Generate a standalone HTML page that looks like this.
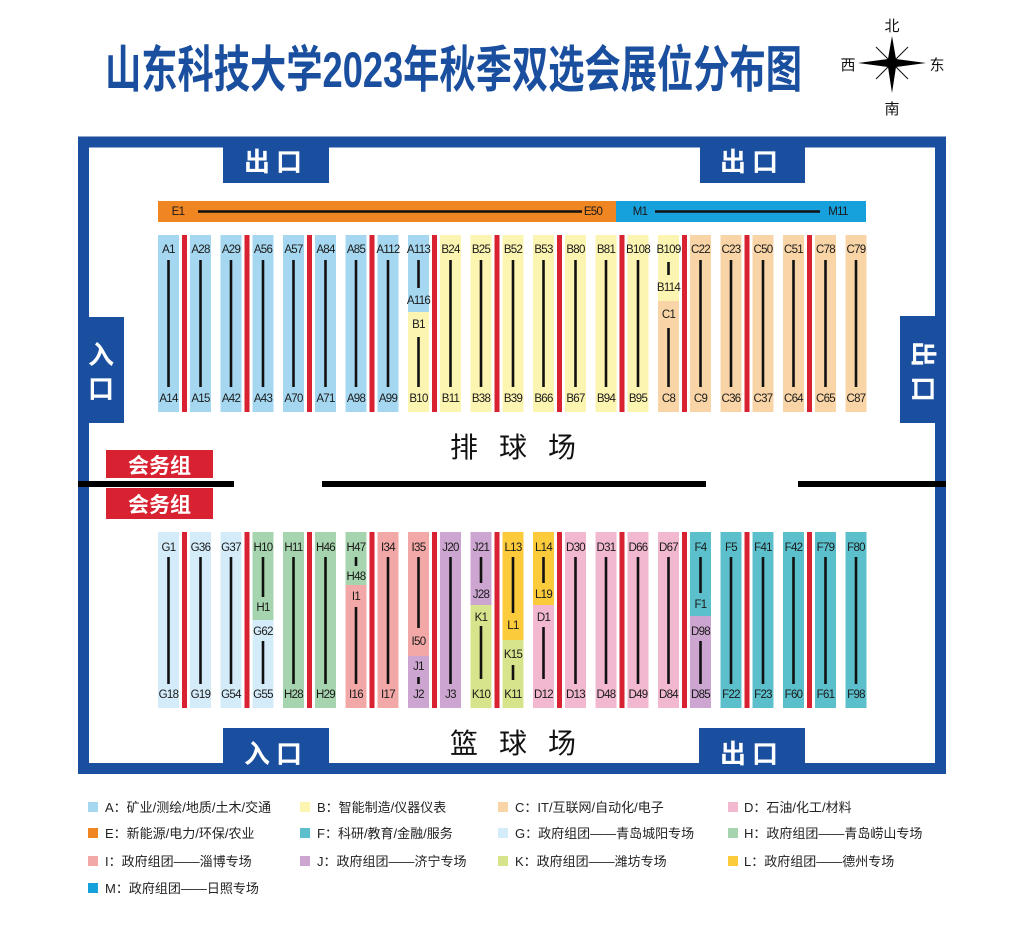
<!DOCTYPE html>
<html><head><meta charset="utf-8"><style>
html,body{margin:0;padding:0;background:#fff;width:1024px;height:927px;overflow:hidden}
svg{display:block}
.l{font-family:"Liberation Sans",sans-serif;font-size:11.5px;text-anchor:middle;fill:#1a1a1a;letter-spacing:-0.7px}
.k{stroke:#111;stroke-width:2.6}
.w{font-family:"Liberation Sans","Noto Sans CJK SC",sans-serif;font-weight:bold;fill:#fff;text-anchor:middle}
.lg{font-family:"Liberation Sans","Noto Sans CJK SC",sans-serif;font-size:13px;fill:#222}
.c{font-family:"Liberation Sans","Noto Sans CJK SC",sans-serif;font-size:15px;fill:#111;text-anchor:middle}
</style></head><body>
<svg width="1024" height="927" viewBox="0 0 1024 927" xmlns="http://www.w3.org/2000/svg">
<rect width="1024" height="927" fill="#fff"/>
<text x="105" y="87" textLength="697" lengthAdjust="spacingAndGlyphs" style="font-family:'Liberation Sans','Noto Sans CJK SC',sans-serif;font-weight:bold;font-size:50px;fill:#1a4e9e">山东科技大学2023年秋季双选会展位分布图</text>
<g transform="translate(892,63)">
<line x1="-16" y1="-16" x2="16" y2="16" stroke="#111" stroke-width="1"/>
<line x1="-16" y1="16" x2="16" y2="-16" stroke="#111" stroke-width="1"/>
<polygon points="0,-27 4,-4 34,0 4,4 0,30 -4,4 -34,0 -4,-4" fill="#000"/>
</g>
<text class="c" x="892" y="31">北</text>
<text class="c" x="892" y="114">南</text>
<text class="c" x="848" y="70">西</text>
<text class="c" x="937" y="70">东</text>
<rect x="83.5" y="142" width="857" height="626.5" fill="none" stroke="#1a4e9e" stroke-width="11"/>
<rect x="223" y="137" width="106" height="46" fill="#1a4e9e"/>
<text class="w" x="276" y="171" font-size="26" letter-spacing="6">出口</text>
<rect x="700" y="137" width="105" height="46" fill="#1a4e9e"/>
<text class="w" x="752" y="171" font-size="26" letter-spacing="6">出口</text>
<rect x="223" y="728" width="106" height="46" fill="#1a4e9e"/>
<text class="w" x="276" y="763" font-size="26" letter-spacing="6">入口</text>
<rect x="699" y="728" width="106" height="46" fill="#1a4e9e"/>
<text class="w" x="752" y="763" font-size="26" letter-spacing="6">出口</text>
<rect x="78" y="317" width="46" height="106" fill="#1a4e9e"/>
<text class="w" x="101" y="364" font-size="26">入</text>
<text class="w" x="101" y="398" font-size="26">口</text>
<rect x="900" y="316" width="46" height="107" fill="#1a4e9e"/>
<text class="w" font-size="26" transform="translate(923,354) rotate(90)" y="9">出</text>
<text class="w" font-size="26" transform="translate(923,389) rotate(90)" y="9">口</text>
<rect x="78" y="481" width="156" height="6" fill="#000"/>
<rect x="322" y="481" width="384" height="6" fill="#000"/>
<rect x="798" y="481" width="148" height="6" fill="#000"/>
<rect x="106" y="450" width="107" height="28" fill="#d92231"/>
<rect x="106" y="488" width="107" height="31" fill="#d92231"/>
<text class="w" x="159.5" y="473" font-size="21">会务组</text>
<text class="w" x="159.5" y="512" font-size="21">会务组</text>
<text x="450" y="457" letter-spacing="21" style="font-family:'Noto Sans CJK SC',sans-serif;font-size:28px;fill:#111">排球场</text>
<text x="450" y="753" letter-spacing="21" style="font-family:'Noto Sans CJK SC',sans-serif;font-size:28px;fill:#111">篮球场</text>
<rect x="158" y="201" width="458" height="21" fill="#ef8622"/>
<rect x="616" y="201" width="250" height="21" fill="#17a1dc"/>
<text class="l" x="178" y="215">E1</text>
<line class="k" x1="198" y1="211.5" x2="582" y2="211.5"/>
<text class="l" x="593" y="215">E50</text>
<text class="l" x="640" y="215">M1</text>
<line class="k" x1="655" y1="211.5" x2="820" y2="211.5"/>
<text class="l" x="838" y="215">M11</text>

<g fill="#d92231">
<rect x="182" y="235" width="5" height="177"/><rect x="244.5" y="235" width="5" height="177"/><rect x="307" y="235" width="5" height="177"/><rect x="369.5" y="235" width="5" height="177"/><rect x="432" y="235" width="5" height="177"/><rect x="494.5" y="235" width="5" height="177"/><rect x="557" y="235" width="5" height="177"/><rect x="619.5" y="235" width="5" height="177"/><rect x="682" y="235" width="5" height="177"/><rect x="744.5" y="235" width="5" height="177"/><rect x="807" y="235" width="5" height="177"/>
</g>
<g transform="translate(158,235)"><rect width="21" height="177" fill="#a5d7f0"/><text class="l" x="10.5" y="18">A1</text><line class="k" x1="10.5" y1="25" x2="10.5" y2="152"/><text class="l" x="10.5" y="167">A14</text></g>
<g transform="translate(190,235)"><rect width="21" height="177" fill="#a5d7f0"/><text class="l" x="10.5" y="18">A28</text><line class="k" x1="10.5" y1="25" x2="10.5" y2="152"/><text class="l" x="10.5" y="167">A15</text></g>
<g transform="translate(220.5,235)"><rect width="21" height="177" fill="#a5d7f0"/><text class="l" x="10.5" y="18">A29</text><line class="k" x1="10.5" y1="25" x2="10.5" y2="152"/><text class="l" x="10.5" y="167">A42</text></g>
<g transform="translate(252.5,235)"><rect width="21" height="177" fill="#a5d7f0"/><text class="l" x="10.5" y="18">A56</text><line class="k" x1="10.5" y1="25" x2="10.5" y2="152"/><text class="l" x="10.5" y="167">A43</text></g>
<g transform="translate(283,235)"><rect width="21" height="177" fill="#a5d7f0"/><text class="l" x="10.5" y="18">A57</text><line class="k" x1="10.5" y1="25" x2="10.5" y2="152"/><text class="l" x="10.5" y="167">A70</text></g>
<g transform="translate(315,235)"><rect width="21" height="177" fill="#a5d7f0"/><text class="l" x="10.5" y="18">A84</text><line class="k" x1="10.5" y1="25" x2="10.5" y2="152"/><text class="l" x="10.5" y="167">A71</text></g>
<g transform="translate(345.5,235)"><rect width="21" height="177" fill="#a5d7f0"/><text class="l" x="10.5" y="18">A85</text><line class="k" x1="10.5" y1="25" x2="10.5" y2="152"/><text class="l" x="10.5" y="167">A98</text></g>
<g transform="translate(377.5,235)"><rect width="21" height="177" fill="#a5d7f0"/><text class="l" x="10.5" y="18">A112</text><line class="k" x1="10.5" y1="25" x2="10.5" y2="152"/><text class="l" x="10.5" y="167">A99</text></g>
<g transform="translate(408,235)"><rect width="21" height="77" fill="#a5d7f0"/><rect y="77" width="21" height="100" fill="#fcf4b1"/><text class="l" x="10.5" y="18">A113</text><line class="k" x1="10.5" y1="25" x2="10.5" y2="53"/><text class="l" x="10.5" y="69">A116</text><text class="l" x="10.5" y="93">B1</text><line class="k" x1="10.5" y1="102" x2="10.5" y2="152"/><text class="l" x="10.5" y="167">B10</text></g>
<g transform="translate(440,235)"><rect width="21" height="177" fill="#fcf4b1"/><text class="l" x="10.5" y="18">B24</text><line class="k" x1="10.5" y1="25" x2="10.5" y2="152"/><text class="l" x="10.5" y="167">B11</text></g>
<g transform="translate(470.5,235)"><rect width="21" height="177" fill="#fcf4b1"/><text class="l" x="10.5" y="18">B25</text><line class="k" x1="10.5" y1="25" x2="10.5" y2="152"/><text class="l" x="10.5" y="167">B38</text></g>
<g transform="translate(502.5,235)"><rect width="21" height="177" fill="#fcf4b1"/><text class="l" x="10.5" y="18">B52</text><line class="k" x1="10.5" y1="25" x2="10.5" y2="152"/><text class="l" x="10.5" y="167">B39</text></g>
<g transform="translate(533,235)"><rect width="21" height="177" fill="#fcf4b1"/><text class="l" x="10.5" y="18">B53</text><line class="k" x1="10.5" y1="25" x2="10.5" y2="152"/><text class="l" x="10.5" y="167">B66</text></g>
<g transform="translate(565,235)"><rect width="21" height="177" fill="#fcf4b1"/><text class="l" x="10.5" y="18">B80</text><line class="k" x1="10.5" y1="25" x2="10.5" y2="152"/><text class="l" x="10.5" y="167">B67</text></g>
<g transform="translate(595.5,235)"><rect width="21" height="177" fill="#fcf4b1"/><text class="l" x="10.5" y="18">B81</text><line class="k" x1="10.5" y1="25" x2="10.5" y2="152"/><text class="l" x="10.5" y="167">B94</text></g>
<g transform="translate(627.5,235)"><rect width="21" height="177" fill="#fcf4b1"/><text class="l" x="10.5" y="18">B108</text><line class="k" x1="10.5" y1="25" x2="10.5" y2="152"/><text class="l" x="10.5" y="167">B95</text></g>
<g transform="translate(658,235)"><rect width="21" height="66" fill="#fcf4b1"/><rect y="66" width="21" height="111" fill="#f8d4a6"/><text class="l" x="10.5" y="18">B109</text><line class="k" x1="10.5" y1="27" x2="10.5" y2="40"/><text class="l" x="10.5" y="56">B114</text><text class="l" x="10.5" y="83">C1</text><line class="k" x1="10.5" y1="93" x2="10.5" y2="152"/><text class="l" x="10.5" y="167">C8</text></g>
<g transform="translate(690,235)"><rect width="21" height="177" fill="#f8d4a6"/><text class="l" x="10.5" y="18">C22</text><line class="k" x1="10.5" y1="25" x2="10.5" y2="152"/><text class="l" x="10.5" y="167">C9</text></g>
<g transform="translate(720.5,235)"><rect width="21" height="177" fill="#f8d4a6"/><text class="l" x="10.5" y="18">C23</text><line class="k" x1="10.5" y1="25" x2="10.5" y2="152"/><text class="l" x="10.5" y="167">C36</text></g>
<g transform="translate(752.5,235)"><rect width="21" height="177" fill="#f8d4a6"/><text class="l" x="10.5" y="18">C50</text><line class="k" x1="10.5" y1="25" x2="10.5" y2="152"/><text class="l" x="10.5" y="167">C37</text></g>
<g transform="translate(783,235)"><rect width="21" height="177" fill="#f8d4a6"/><text class="l" x="10.5" y="18">C51</text><line class="k" x1="10.5" y1="25" x2="10.5" y2="152"/><text class="l" x="10.5" y="167">C64</text></g>
<g transform="translate(815,235)"><rect width="21" height="177" fill="#f8d4a6"/><text class="l" x="10.5" y="18">C78</text><line class="k" x1="10.5" y1="25" x2="10.5" y2="152"/><text class="l" x="10.5" y="167">C65</text></g>
<g transform="translate(845.5,235)"><rect width="21" height="177" fill="#f8d4a6"/><text class="l" x="10.5" y="18">C79</text><line class="k" x1="10.5" y1="25" x2="10.5" y2="152"/><text class="l" x="10.5" y="167">C87</text></g>

<g fill="#d92231">
<rect x="182" y="532" width="5" height="176"/><rect x="244.5" y="532" width="5" height="176"/><rect x="307" y="532" width="5" height="176"/><rect x="369.5" y="532" width="5" height="176"/><rect x="432" y="532" width="5" height="176"/><rect x="494.5" y="532" width="5" height="176"/><rect x="557" y="532" width="5" height="176"/><rect x="619.5" y="532" width="5" height="176"/><rect x="682" y="532" width="5" height="176"/><rect x="744.5" y="532" width="5" height="176"/><rect x="807" y="532" width="5" height="176"/>
</g>
<g transform="translate(158,532)"><rect width="21" height="176" fill="#d4ecf9"/><text class="l" x="10.5" y="19">G1</text><line class="k" x1="10.5" y1="25" x2="10.5" y2="152"/><text class="l" x="10.5" y="166">G18</text></g>
<g transform="translate(190,532)"><rect width="21" height="176" fill="#d4ecf9"/><text class="l" x="10.5" y="19">G36</text><line class="k" x1="10.5" y1="25" x2="10.5" y2="152"/><text class="l" x="10.5" y="166">G19</text></g>
<g transform="translate(220.5,532)"><rect width="21" height="176" fill="#d4ecf9"/><text class="l" x="10.5" y="19">G37</text><line class="k" x1="10.5" y1="25" x2="10.5" y2="152"/><text class="l" x="10.5" y="166">G54</text></g>
<g transform="translate(252.5,532)"><rect width="21" height="88" fill="#a6d4ae"/><rect y="88" width="21" height="88" fill="#d4ecf9"/><text class="l" x="10.5" y="19">H10</text><line class="k" x1="10.5" y1="25" x2="10.5" y2="65"/><text class="l" x="10.5" y="79">H1</text><text class="l" x="10.5" y="103">G62</text><line class="k" x1="10.5" y1="109" x2="10.5" y2="152"/><text class="l" x="10.5" y="166">G55</text></g>
<g transform="translate(283,532)"><rect width="21" height="176" fill="#a6d4ae"/><text class="l" x="10.5" y="19">H11</text><line class="k" x1="10.5" y1="25" x2="10.5" y2="152"/><text class="l" x="10.5" y="166">H28</text></g>
<g transform="translate(315,532)"><rect width="21" height="176" fill="#a6d4ae"/><text class="l" x="10.5" y="19">H46</text><line class="k" x1="10.5" y1="25" x2="10.5" y2="152"/><text class="l" x="10.5" y="166">H29</text></g>
<g transform="translate(345.5,532)"><rect width="21" height="53" fill="#a6d4ae"/><rect y="53" width="21" height="123" fill="#f2a8a6"/><text class="l" x="10.5" y="19">H47</text><line class="k" x1="10.5" y1="25" x2="10.5" y2="34"/><text class="l" x="10.5" y="48">H48</text><text class="l" x="10.5" y="68">I1</text><line class="k" x1="10.5" y1="75" x2="10.5" y2="152"/><text class="l" x="10.5" y="166">I16</text></g>
<g transform="translate(377.5,532)"><rect width="21" height="176" fill="#f2a8a6"/><text class="l" x="10.5" y="19">I34</text><line class="k" x1="10.5" y1="25" x2="10.5" y2="152"/><text class="l" x="10.5" y="166">I17</text></g>
<g transform="translate(408,532)"><rect width="21" height="124" fill="#f2a8a6"/><rect y="124" width="21" height="52" fill="#cca6d0"/><text class="l" x="10.5" y="19">I35</text><line class="k" x1="10.5" y1="25" x2="10.5" y2="96"/><text class="l" x="10.5" y="113">I50</text><text class="l" x="10.5" y="138">J1</text><line class="k" x1="10.5" y1="145" x2="10.5" y2="152"/><text class="l" x="10.5" y="166">J2</text></g>
<g transform="translate(440,532)"><rect width="21" height="176" fill="#cca6d0"/><text class="l" x="10.5" y="19">J20</text><line class="k" x1="10.5" y1="25" x2="10.5" y2="152"/><text class="l" x="10.5" y="166">J3</text></g>
<g transform="translate(470.5,532)"><rect width="21" height="73" fill="#cca6d0"/><rect y="73" width="21" height="103" fill="#d8e48c"/><text class="l" x="10.5" y="19">J21</text><line class="k" x1="10.5" y1="25" x2="10.5" y2="51"/><text class="l" x="10.5" y="66">J28</text><text class="l" x="10.5" y="89">K1</text><line class="k" x1="10.5" y1="94" x2="10.5" y2="147"/><text class="l" x="10.5" y="166">K10</text></g>
<g transform="translate(502.5,532)"><rect width="21" height="108" fill="#fbcb3c"/><rect y="108" width="21" height="68" fill="#d8e48c"/><text class="l" x="10.5" y="19">L13</text><line class="k" x1="10.5" y1="25" x2="10.5" y2="81"/><text class="l" x="10.5" y="97">L1</text><text class="l" x="10.5" y="126">K15</text><line class="k" x1="10.5" y1="133" x2="10.5" y2="148"/><text class="l" x="10.5" y="166">K11</text></g>
<g transform="translate(533,532)"><rect width="21" height="73" fill="#fbcb3c"/><rect y="73" width="21" height="103" fill="#f2b8d0"/><text class="l" x="10.5" y="19">L14</text><line class="k" x1="10.5" y1="25" x2="10.5" y2="51"/><text class="l" x="10.5" y="66">L19</text><text class="l" x="10.5" y="89">D1</text><line class="k" x1="10.5" y1="95" x2="10.5" y2="147"/><text class="l" x="10.5" y="166">D12</text></g>
<g transform="translate(565,532)"><rect width="21" height="176" fill="#f2b8d0"/><text class="l" x="10.5" y="19">D30</text><line class="k" x1="10.5" y1="25" x2="10.5" y2="152"/><text class="l" x="10.5" y="166">D13</text></g>
<g transform="translate(595.5,532)"><rect width="21" height="176" fill="#f2b8d0"/><text class="l" x="10.5" y="19">D31</text><line class="k" x1="10.5" y1="25" x2="10.5" y2="152"/><text class="l" x="10.5" y="166">D48</text></g>
<g transform="translate(627.5,532)"><rect width="21" height="176" fill="#f2b8d0"/><text class="l" x="10.5" y="19">D66</text><line class="k" x1="10.5" y1="25" x2="10.5" y2="152"/><text class="l" x="10.5" y="166">D49</text></g>
<g transform="translate(658,532)"><rect width="21" height="176" fill="#f2b8d0"/><text class="l" x="10.5" y="19">D67</text><line class="k" x1="10.5" y1="25" x2="10.5" y2="152"/><text class="l" x="10.5" y="166">D84</text></g>
<g transform="translate(690,532)"><rect width="21" height="84" fill="#5cc0cc"/><rect y="84" width="21" height="92" fill="#cca6d0"/><text class="l" x="10.5" y="19">F4</text><line class="k" x1="10.5" y1="25" x2="10.5" y2="61"/><text class="l" x="10.5" y="76">F1</text><text class="l" x="10.5" y="103">D98</text><line class="k" x1="10.5" y1="109" x2="10.5" y2="152"/><text class="l" x="10.5" y="166">D85</text></g>
<g transform="translate(720.5,532)"><rect width="21" height="176" fill="#5cc0cc"/><text class="l" x="10.5" y="19">F5</text><line class="k" x1="10.5" y1="25" x2="10.5" y2="152"/><text class="l" x="10.5" y="166">F22</text></g>
<g transform="translate(752.5,532)"><rect width="21" height="176" fill="#5cc0cc"/><text class="l" x="10.5" y="19">F41</text><line class="k" x1="10.5" y1="25" x2="10.5" y2="152"/><text class="l" x="10.5" y="166">F23</text></g>
<g transform="translate(783,532)"><rect width="21" height="176" fill="#5cc0cc"/><text class="l" x="10.5" y="19">F42</text><line class="k" x1="10.5" y1="25" x2="10.5" y2="152"/><text class="l" x="10.5" y="166">F60</text></g>
<g transform="translate(815,532)"><rect width="21" height="176" fill="#5cc0cc"/><text class="l" x="10.5" y="19">F79</text><line class="k" x1="10.5" y1="25" x2="10.5" y2="152"/><text class="l" x="10.5" y="166">F61</text></g>
<g transform="translate(845.5,532)"><rect width="21" height="176" fill="#5cc0cc"/><text class="l" x="10.5" y="19">F80</text><line class="k" x1="10.5" y1="25" x2="10.5" y2="152"/><text class="l" x="10.5" y="166">F98</text></g>

<rect x="88" y="802" width="10" height="10" fill="#a5d7f0"/><text class="lg" x="105" y="812">A：矿业/测绘/地质/土木/交通</text>
<rect x="300" y="802" width="10" height="10" fill="#fcf4b1"/><text class="lg" x="317" y="812">B：智能制造/仪器仪表</text>
<rect x="498" y="802" width="10" height="10" fill="#f8d4a6"/><text class="lg" x="515" y="812">C：IT/互联网/自动化/电子</text>
<rect x="728" y="802" width="10" height="10" fill="#f2b8d0"/><text class="lg" x="744" y="812">D：石油/化工/材料</text>
<rect x="88" y="828" width="10" height="10" fill="#ef8622"/><text class="lg" x="105" y="838">E：新能源/电力/环保/农业</text>
<rect x="300" y="828" width="10" height="10" fill="#5cc0cc"/><text class="lg" x="317" y="838">F：科研/教育/金融/服务</text>
<rect x="498" y="828" width="10" height="10" fill="#d4ecf9"/><text class="lg" x="515" y="838">G：政府组团——青岛城阳专场</text>
<rect x="728" y="828" width="10" height="10" fill="#a6d4ae"/><text class="lg" x="744" y="838">H：政府组团——青岛崂山专场</text>
<rect x="88" y="856" width="10" height="10" fill="#f2a8a6"/><text class="lg" x="105" y="866">I：政府组团——淄博专场</text>
<rect x="300" y="856" width="10" height="10" fill="#cca6d0"/><text class="lg" x="317" y="866">J：政府组团——济宁专场</text>
<rect x="498" y="856" width="10" height="10" fill="#d8e48c"/><text class="lg" x="515" y="866">K：政府组团——潍坊专场</text>
<rect x="728" y="856" width="10" height="10" fill="#fbcb3c"/><text class="lg" x="744" y="866">L：政府组团——德州专场</text>
<rect x="88" y="883" width="10" height="10" fill="#17a1dc"/><text class="lg" x="105" y="893">M：政府组团——日照专场</text>
</svg>
</body></html>
